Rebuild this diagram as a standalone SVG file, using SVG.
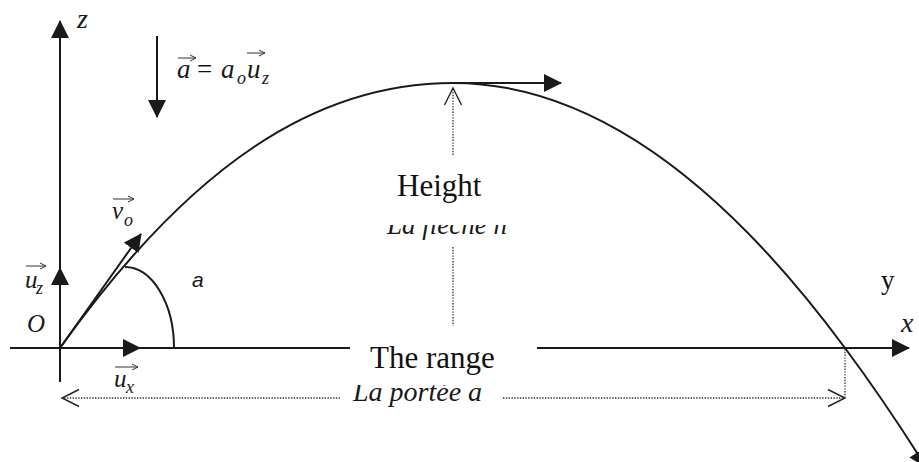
<svg xmlns="http://www.w3.org/2000/svg" width="919" height="462" viewBox="0 0 919 462">
<style>
.ln{fill:none;stroke:#1a1a1a;stroke-width:2}
.dot{fill:none;stroke:#333;stroke-width:1.3;stroke-dasharray:1.4 1.4}
.vec{fill:none;stroke:#333;stroke-width:1}
.m{font-family:"Liberation Serif","Times New Roman",serif;font-style:italic;fill:#1a1a1a}
.r{font-family:"Liberation Serif","Times New Roman",serif;fill:#111}
.s{font-family:"Liberation Sans",Arial,sans-serif;font-style:italic;fill:#1a1a1a}
</style>
<defs>
<marker id="tri" viewBox="0 0 18 18" refX="17" refY="9" markerWidth="18" markerHeight="18" markerUnits="userSpaceOnUse" orient="auto">
<path d="M0,0 L18,9 L0,18 z" fill="#1a1a1a"/>
</marker>
<marker id="open" viewBox="0 0 20 20" refX="18" refY="10" markerWidth="20" markerHeight="20" markerUnits="userSpaceOnUse" orient="auto">
<path d="M1,1.5 L18,10 L1,18.5" fill="none" stroke="#222" stroke-width="1.4"/>
</marker>
<marker id="vh" viewBox="0 0 8 8" refX="7" refY="4" markerWidth="8" markerHeight="8" markerUnits="userSpaceOnUse" orient="auto">
<path d="M1,1 L7,4 L1,7" fill="none" stroke="#333" stroke-width="1"/>
</marker>
<clipPath id="clipH"><rect x="370" y="225" width="160" height="30"/></clipPath>
<clipPath id="clipR"><rect x="340" y="385" width="170" height="40"/></clipPath>
</defs>
<rect width="919" height="462" fill="#fff"/>
<g id="connectors">
<path id="z-axis" class="ln" d="M60,382 L60,21" marker-end="url(#tri)"/>
<path id="x-axis-left" class="ln" d="M10,348 L350,348"/>
<path id="x-axis-right" class="ln" d="M537,348 L909,348" marker-end="url(#tri)"/>
<path id="uz-arrow" class="ln" d="M60,300 L60,268" marker-end="url(#tri)"/>
<path id="ux-arrow" class="ln" d="M100,348 L140,348" marker-end="url(#tri)"/>
<path id="accel-arrow" class="ln" d="M157,36 L157,117" marker-end="url(#tri)"/>
<path id="trajectory" class="ln" d="M60,348 C190,166 315,83 453,83 Q649,83 845,348 Q885.5,402.5 926,467" marker-end="url(#tri)"/>
<path id="v0-arrow" class="ln" d="M60,348 L141,234" marker-end="url(#tri)"/>
<path id="apex-arrow" class="ln" d="M453,83 L561,83" marker-end="url(#tri)"/>
<path id="angle-arc" class="ln" d="M125,267 A49,81 0 0 1 174,348"/>
<path id="height-top" class="dot" d="M453,155 L453,88" marker-end="url(#open)"/>
<path id="height-bottom" class="dot" d="M453,247 L453,326"/>
<path id="range-left" class="dot" d="M340,398 L62,398" marker-end="url(#open)"/>
<path id="range-right" class="dot" d="M503,398 L845,398" marker-end="url(#open)"/>
<path id="range-drop" class="dot" d="M845,349 L845,397"/>
</g>
<g id="label-z"><text class="m" x="77" y="28" font-size="28">z</text></g>
<g id="label-accel">
<path class="vec" d="M178,58 L196,58" marker-end="url(#vh)"/>
<path class="vec" d="M247,53 L265,53" marker-end="url(#vh)"/>
<text class="m" x="177" y="78" font-size="27">a</text>
<text class="r" x="197" y="78" font-size="27">=</text>
<text class="m" x="221" y="78" font-size="27">a</text>
<text class="m" x="237" y="84" font-size="18">o</text>
<text class="m" x="247" y="78" font-size="27">u</text>
<text class="m" x="262" y="84" font-size="18">z</text>
</g>
<g id="label-v0">
<path class="vec" d="M113,199 L134,199" marker-end="url(#vh)"/>
<text class="m" x="112" y="219" font-size="25">v</text>
<text class="m" x="124" y="226" font-size="18">o</text>
</g>
<g id="label-uz">
<path class="vec" d="M26,266 L46,266" marker-end="url(#vh)"/>
<text class="m" x="25" y="288" font-size="25">u</text>
<text class="m" x="36" y="294" font-size="18">z</text>
</g>
<g id="label-O"><text class="m" x="27" y="332" font-size="25">O</text></g>
<g id="label-ux">
<path class="vec" d="M115,367 L138,367" marker-end="url(#vh)"/>
<text class="m" x="114" y="387" font-size="25">u</text>
<text class="m" x="126" y="393" font-size="18">x</text>
</g>
<g id="label-angle"><text class="s" x="192" y="287" font-size="21">a</text></g>
<g id="label-y"><text class="r" x="881" y="289" font-size="27">y</text></g>
<g id="label-x"><text class="m" x="901" y="332" font-size="28">x</text></g>
<g id="label-height">
<text class="r" x="397" y="196" font-size="31">Height</text>
<text class="m" x="387" y="234" font-size="27" clip-path="url(#clipH)">La flèche h</text>
</g>
<g id="label-range">
<text class="r" x="370" y="368" font-size="31">The range</text>
<text class="m" x="353" y="401" font-size="28" clip-path="url(#clipR)">La portée a</text>
</g>
</svg>
